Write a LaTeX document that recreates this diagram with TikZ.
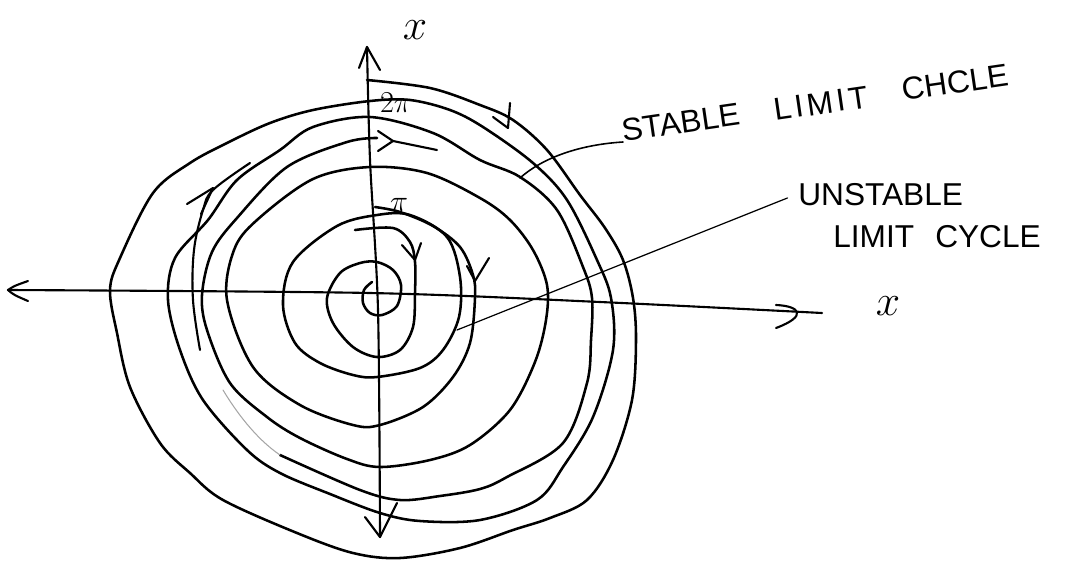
\documentclass[tikz,border=0pt]{standalone}
\usepackage{fontspec}
\setmainfont{Liberation Sans}
\usetikzlibrary{arrows.meta}
\begin{document}
\begin{tikzpicture}[x=0.02cm,y=-0.02cm,
  curve/.style={line width=1.45pt, line join=round, line cap=round},
  faint/.style={line width=0.6pt, gray!70, line cap=round},
  pen/.style={line width=1.2pt, line cap=round, line join=round},
  pointer/.style={line width=0.7pt, line cap=round},
  lbl/.style={inner sep=0pt, font=\fontsize{18}{20}\selectfont},
  axlbl/.style={inner sep=0pt}]
\useasboundingbox (0,0) rectangle (1077,561);

% ---- axes ----
\coordinate (hl) at (8,290);
\coordinate (hr) at (822,313);
\coordinate (vt) at (367,47);
\coordinate (vb) at (380,537);
\draw[pen] plot[smooth, tension=0.5] coordinates {(hl) (370,293) (600,302) (hr)};
\draw[pen] (28,281) .. controls (14,286) .. (hl) .. controls (14,295) .. (28,301);
\draw[pen] (776,305) .. controls (800,306) and (808,316) .. (776,328);
\draw[pen] plot[smooth, tension=0.5] coordinates {(vt) (370,160) (378,310) (vb)};
\draw[pen] (359,68) -- (vt) -- (380,70);
\draw[pen] (365,517) -- (vb) -- (397,503);

% ---- outer spiral converging to the stable limit cycle ----
\draw[curve] plot[smooth, tension=0.55] coordinates {
 (367,80) (430,88) (480,105) (513,120) (547,150) (580,195) (605,228) (623,260)
 (633,298) (636,340) (632,400) (613,460) (587,500) (550,518) (513,530) (460,548)
 (400,558) (353,553) (297,533) (223,500) (190,473) (160,443) (130,387) (117,333)
 (110,290) (120,258) (153,193) (190,163) (227,143) (270,123) (313,110) (370,101)
 (410,100) (450,110) (483,127) (533,163) (567,200) (597,260) (611,298) (613,350)
 (593,417) (563,467) (537,500) (480,520) (420,521) (380,513) (330,494) (280,473)
 (247,450) (203,400) (180,350) (168,300) (175,258) (208,220) (237,180) (280,150)
 (313,127) (370,117) (433,133) (480,160) (520,177) (557,210) (583,267) (592,298)
 (591,340) (587,383) (563,443) (507,477) (480,489) (440,496) (400,500) (360,490)
 (280,455)};
\draw[faint] (280,455) .. controls (255,438) and (235,410) .. (223,390);
\draw[pen] plot[smooth, tension=0.6] coordinates {(200,350) (193,300) (194,250) (203,210) (213,190) (250,163)};
\draw[pen] (187,204) -- (213,188) -- (201,214);
\draw[pen] (510,103) -- (508,128) -- (493,117);

% ---- curve from pi spiralling outwards ----
\draw[curve] plot[smooth, tension=0.55] coordinates {
 (375,207) (400,212) (433,226) (460,247) (473,275) (475,298) (470,343) (453,377)
 (423,407) (380,425) (353,425) (300,405) (253,367) (227,300) (234,250) (257,220)
 (313,179) (370,167) (427,173) (480,198) (510,220) (533,250) (547,285) (546,320)
 (535,362) (510,410) (470,445) (430,460) (380,467) (347,459) (300,438) (267,417)
 (230,383) (207,330) (202,295) (212,252) (237,218) (287,167) (347,142) (377,138)};
\draw[pen] (378,131) -- (393,141) -- (378,151);
\draw[pen] (393,141) -- (437,150);
\draw[pen] (467,266) -- (475,281) -- (489,258);

% ---- unstable limit cycle ----
\draw[curve] plot[smooth cycle, tension=0.55] coordinates {
 (283,305) (293,262) (337,226) (377,215) (410,215) (447,237) (460,277) (459,317)
 (443,350) (420,368) (377,377) (353,375) (320,363) (295,343)};

% ---- inner spiral into the origin ----
\draw[curve] plot[smooth, tension=0.55] coordinates {
 (355,230) (393,228) (410,242) (415,262) (415,293) (413,327) (400,350) (377,357)
 (353,347) (333,323) (327,298) (340,273) (360,263) (377,262) (393,270) (401,285)
 (397,306) (382,315) (370,313) (363,303) (364,290) (372,282)};
\draw[pen] (402,245) -- (415,260) -- (421,243);

% ---- labels ----
\node[axlbl, font=\fontsize{26}{26}\selectfont] (xtop) at (415,30) {$x$};
\node[axlbl, font=\fontsize{40}{40}\selectfont] (xright) at (888,306) {$x$};
\node[axlbl, font=\fontsize{16}{16}\selectfont] (twopi) at (396,103) {$2\pi$};
\node[axlbl, font=\fontsize{18}{18}\selectfont] (pi) at (399,205) {$\pi$};

\node[lbl, anchor=base west, rotate=8.3] (stable) at (623,142) {STABLE};
\node[lbl, anchor=base west, rotate=8.3] (limitA) at (775,121)
  {L\kern2pt I\kern2pt M\kern2pt I\kern2pt T};
\node[lbl, anchor=base west, rotate=8.3] (chcle) at (903,101) {CHCLE};
\node[lbl, anchor=base west] (unstable1) at (798,205) {UNSTABLE};
\node[lbl, anchor=base west] (unstable2) at (833,247) {LIMIT\hspace{12pt}CYCLE};

\coordinate (stabtip) at (520,178);
\coordinate (unstabtip) at (457,330);
\draw[pointer, line width=0.9pt] (stable.base west) .. controls (575,145) and (540,160) .. (stabtip);
\draw[pointer] ([xshift=-6pt,yshift=4pt]unstable1.base west) -- (unstabtip);
\end{tikzpicture}
\end{document}
